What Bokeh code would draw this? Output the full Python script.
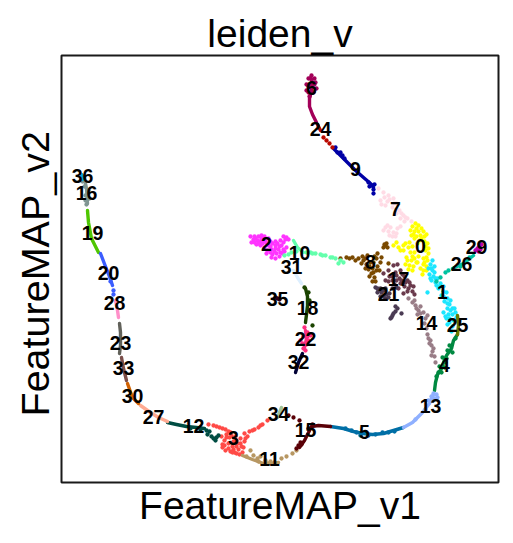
from bokeh.plotting import figure
from bokeh.models import Range1d, FixedTicker, Title
from bokeh.core.properties import value
from bokeh.embed import file_html
from bokeh.resources import INLINE

clusters = [str(i) for i in range(37)]
colors = ["#FFFF00","#1CE6FF","#FF34FF","#FF4A46","#008941","#006FA6","#A30059","#FFDBE5","#7A4900","#0000A6",
          "#63FFAC","#B79762","#004D43","#8FB0FF","#997D87","#5A0007","#809693","#6A3A4C","#1B4400","#4FC601",
          "#3B5DFF","#4A3B53","#FF2F80","#61615A","#BA0900","#6B7900","#00C2A0","#FFAA92","#FF90C9","#B903AA",
          "#D16100","#DDEFFF","#000035","#7B4F4B","#A1C299","#300018","#0AA6D8"]
label_x = [420,442,266,233,444,364,311,395,370,355,299,269,193,430,426,305,86,398,307,92,108,388,305,120,320,457,461,153,114,476,132,291,298,123,278,277,82]
label_y = [245,291,243,437,364,431,87,208,261,168,252,458,425,405,322,429,192,278,307,232,272,293,338,342,128,324,263,416,302,246,395,266,361,367,413,298,175]

# tracks: connected trajectories (x, y pairs); dots: scattered cells
track_4 = [(457,334),(453,340),(451,348),(446,355),(443,362),(441,368),(437,374),(435,382),(434,390)]
dots_4 = [(442,357),(446,358),(449,345),(444,367),(438,372),(455,338),(452,352),(439,366),(447,350),(441,372),(436,376),(445,362)]
track_5 = [(330,426),(343,428),(353,431),(362,433),(372,434),(383,433),(393,430),(403,427)]
dots_5 = [(351,430),(360,435),(382,432),(368,435),(394,431),(345,428),(356,432),(375,434),(388,432)]
track_6 = [(310,77),(312,82),(311,90),(309,98),(309,106),(312,114),(316,122)]
dots_6 = [(306,84),(316,88),(314,78),(308,78),(310,84),(314,84),(313,92),(308,92),(306,90),(311,75),(315,82),(308,86),(311,79),(309,96)]
track_9 = [(333,148),(340,155),(347,162),(355,170),(363,177),(370,183),(373,187)]
dots_9 = [(337,152),(335,147),(342,155),(368,182),(372,185),(369,186),(373,189),(373,193),(374,184),(340,152),(344,158)]
track_11 = [(242,455),(252,459),(263,463),(272,463),(278,462)]
dots_11 = [(250,450),(253,455),(257,458),(260,456),(265,460),(270,461),(281,458),(286,456),(292,453),(296,450),(246,456),(258,461),(267,463),(274,462)]
track_12 = [(167,422),(176,424),(186,426),(196,427),(204,428)]
dots_12 = [(213,438),(216,437),(218,435),(211,436),(215,440),(209,431),(207,434),(206,430),(190,428),(200,429)]
track_13 = [(403,427),(412,422),(422,412),(429,403),(433,394)]
dots_13 = [(437,397),(433,393),(434,398),(431,396),(428,400),(436,394),(425,409),(415,419)]
track_15 = [(330,426),(318,425),(311,426),(308,432),(304,440),(299,447)]
dots_15 = [(288,415),(293,417),(299,420),(296,448),(301,444),(298,445),(312,424),(308,428),(300,442)]
track_16 = [(84,178),(86,188),(87,203)]
dots_16 = [(82,181),(88,190),(85,195),(89,198),(85,200),(86,204),(84,186),(83,176),(87,194)]
track_18 = [(305,288),(307,296),(307,305),(306,314),(305,322)]
dots_18 = [(304,287),(308,292),(312,325),(309,300)]
track_19 = [(87,210),(88,222),(91,238),(98,252)]
track_20 = [(100,253),(105,266),(109,276),(112,285)]
dots_20 = [(113,290),(113,294),(110,281)]
track_22 = [(305,330),(306,338),(304,347)]
dots_22 = [(310,335),(307,332),(302,343),(303,348),(306,344),(303,336),(308,340),(304,327),(300,340),(305,350),(307,336)]
track_23 = [(119,323),(120,332),(120,345),(119,353)]
track_24 = [(317,124),(320,130)]
dots_24 = [(323,137),(326,140),(329,143),(332,147)]
track_25 = [(457,315),(458,325),(457,334)]
track_26 = [(452,268),(463,263),(473,255)]
dots_26 = [(445,272),(440,277),(448,270),(436,281),(460,266),(469,257)]
track_27 = [(140,405),(150,412),(158,417),(167,421)]
track_28 = [(115,300),(117,310),(118,317)]
dots_29 = [(477,248),(479,246),(475,250),(480,249),(478,251),(481,244)]
track_30 = [(127,383),(132,397),(138,403)]
track_31 = [(293,270),(297,277),(301,283)]
track_32 = [(302,353),(298,362),(295,372)]
track_33 = [(121,357),(123,368),(126,380)]
track_34 = [(281,407),(277,417)]
dots_35 = [(277,298),(279,299),(275,297)]
track_36 = [(81,174),(82,179)]
track_10 = [(293,240),(297,247),(303,252)]
dots_10 = [(284,255),(288,254),(291,252),(306,252),(310,252),(315,253),(320,254),(325,255),(330,257),(335,258),(340,260),(343,262),(338,263),(296,251),(312,253),(322,255),(332,257)]

dots_0 = [(415,223),(412,226),(418,225),(421,228),(410,230),(414,231),(418,231),(423,231),(411,235),(416,236),(420,235),
          (424,236),(426,234),(414,238),(419,240),(424,241),(427,243),(428,248),(425,250),(428,253),(426,257),(423,258),(427,260),
          (423,264),(426,266),(423,270),(422,274),(426,270),(403,245),(393,245),(398,247),(400,250),(405,243),(409,242),(412,246),
          (396,242),(412,256),(407,260),(411,260),(414,258),(405,264),(409,265),(413,266),(408,269),(412,270),(416,262),(418,256),(417,262),
          (416,228),(413,234),(421,238),(417,243),(425,246),(408,247),(403,250),(410,252),(414,252),(424,262),(420,268),(406,257)]
dots_1 = [(432,260),(430,264),(434,266),(428,268),(432,270),(429,274),(433,276),(431,280),(435,282),(440,283),(437,278),
          (443,286),(438,288),(446,292),(441,295),(447,298),(444,301),(449,304),(452,308),(447,308),(455,312),(452,314),(448,314),
          (456,317),(443,312),(446,318),(449,322),(447,324),(452,326),(451,331),(445,316),(427,292),(436,285),(434,272),(450,300),
          (431,268),(435,278),(430,278),(439,286),(444,297),(450,310),(453,320),(449,318),(443,291),(447,303),(454,308)]
dots_2 = [(250,236),(253,239),(251,242),(255,238),(258,236),(261,235),(264,236),(268,238),(256,244),(259,241),(262,240),
          (265,241),(260,245),(264,247),(268,245),(272,243),(275,241),(267,250),(271,249),(275,248),(279,246),(283,236),(286,237),
          (288,239),(280,240),(283,242),(272,254),(276,253),(280,252),(284,251),(275,258),(271,257),(286,247),(283,249),(279,256),(266,253),
          (254,236),(257,240),(254,242),(261,238),(266,243),(262,243),(258,243),(270,241),(270,252),(274,251),(278,249),(282,253),(281,245),(277,243),(285,239),(275,245),(270,246)]
dots_3 = [(208,424),(213,425),(219,427),(225,429),(230,432),(235,436),(240,438),(244,433),(249,431),(254,429),(258,427),
          (262,424),(267,420),(222,447),(225,450),(230,451),(234,452),(239,454),(243,447),(240,443),(236,446),(232,446),(228,443),
          (224,440),(229,437),(222,444),(226,434),(233,441),(238,449),(244,441),(221,436),(242,452),(247,436),(216,426),(222,428),
          (228,431),(224,445),(228,448),(233,449),(237,443),(241,446),(231,435),(236,440),(226,437),(252,430),(260,425),(245,438),(232,452),(236,453)]
dots_7 = [(378,188),(383,192),(388,195),(393,198),(396,203),(399,210),(403,215),(407,218),(411,221),(380,200),(381,204),
          (385,205),(387,201),(392,207),(396,213),(400,218),(404,221),(385,227),(388,231),(393,232),(397,228),(390,227),(395,236),
          (392,236),(387,225),(400,226),(384,197),(389,199),(394,203),(401,213),(405,217),(383,230),(396,233),(389,235)]
dots_8 = [(340,258),(346,257),(352,257),(358,258),(363,260),(366,264),(370,262),(368,269),(371,273),(374,277),(375,281),
          (377,266),(380,262),(376,258),(381,257),(374,256),(377,253),(385,245),(383,247),(387,247),(388,263),(372,268),(367,255),
          (379,270),(372,281),(362,256),(349,258),(355,260),(361,263),(365,268),(369,266),(373,272),(376,270),(369,276),(373,262),(365,258),(384,244),(386,243)]
dots_14 = [(408,298),(412,302),(415,305),(418,310),(417,314),(423,312),(427,315),(424,323),(426,328),(427,334),(430,340),
           (431,345),(432,351),(434,356),(435,362),(433,348),(420,306),(414,300),(416,308),(420,313),(425,318),(428,338),(429,343),(431,355)]
dots_17 = [(383,273),(388,270),(393,265),(397,264),(389,276),(385,280),(392,280),(396,275),(400,270),(404,276),(407,280),
           (400,283),(404,286),(408,288),(412,291),(414,294),(409,282),(403,293),(394,284),(388,281),(413,286),(398,288),
           (395,272),(399,278),(402,274),(392,276),(405,282),(410,285),(396,280),(401,280),(407,291)]
dots_21 = [(375,287),(377,292),(380,296),(383,290),(386,294),(380,288),(385,298),(389,293),(392,288),(396,287),(390,318),
           (392,315),(395,311),(397,308),(395,306),(401,313),(377,288),(381,292),(385,288),(388,297),(378,290),(383,296),(391,317),(393,313)]

track_names = {4:track_4,5:track_5,6:track_6,9:track_9,10:track_10,11:track_11,12:track_12,13:track_13,15:track_15,16:track_16,
               18:track_18,19:track_19,20:track_20,22:track_22,23:track_23,24:track_24,25:track_25,26:track_26,27:track_27,28:track_28,
               30:track_30,31:track_31,32:track_32,33:track_33,34:track_34,36:track_36}
dot_names = {0:dots_0,1:dots_1,2:dots_2,3:dots_3,4:dots_4,5:dots_5,6:dots_6,7:dots_7,8:dots_8,9:dots_9,10:dots_10,11:dots_11,12:dots_12,
             13:dots_13,14:dots_14,15:dots_15,16:dots_16,17:dots_17,18:dots_18,20:dots_20,21:dots_21,22:dots_22,24:dots_24,26:dots_26,29:dots_29,35:dots_35}

p = figure(width=505, height=535, output_backend="svg", toolbar_location=None,
           x_range=Range1d(61, 498), y_range=Range1d(482, 55),
           title="leiden_v", min_border_left=61, min_border_right=7, min_border_top=55, min_border_bottom=53)
p.frame_width = 437
p.frame_height = 427
p.grid.visible = False
p.background_fill_color = "white"
p.outline_line_color = "#1a1a1a"
p.outline_line_width = 2
p.title.text_font = "Liberation Sans"
p.title.text_font_size = "39px"
p.title.text_font_style = "normal"
p.title.text_color = "black"
p.title.align = "center"
p.title.standoff = 2
p.title.offset = 0
ax = p.xaxis[0]
ax.axis_label = "FeatureMAP_v1"
ax.axis_label_text_font = "Liberation Sans"
ax.axis_label_text_font_size = "39px"
ax.axis_label_text_font_style = "normal"
ax.axis_label_text_color = "black"
ax.axis_label_standoff = 1
for ax in (p.xaxis[0], p.yaxis[0]):
    ax.ticker = FixedTicker(ticks=[])
    ax.axis_line_color = None
    ax.major_tick_line_color = None
    ax.minor_tick_line_color = None
    ax.major_label_text_font_size = "0px"
ylab = Title(text="FeatureMAP_v2", align="left", offset=66, standoff=10,
             text_font="Liberation Sans", text_font_size="39.5px", text_font_style="normal", text_color="black")
p.add_layout(ylab, "left")

for i, c in enumerate(colors):
    if i in track_names:
        t = track_names[i]
        p.line([a for a, _ in t], [b for _, b in t], line_color=c, line_width=3.4, line_cap="round", line_join="round")
    if i in dot_names:
        d = dot_names[i]
        p.scatter([a for a, _ in d], [b for _, b in d], size=4.3, fill_color=c, line_color=None)

p.text(label_x, label_y, text=clusters, text_font=value("Liberation Sans"), text_font_style="bold",
       text_font_size="19.5px", text_align="center", text_baseline="middle", text_color="black")

open("out.html", "w").write(file_html(p, INLINE))
